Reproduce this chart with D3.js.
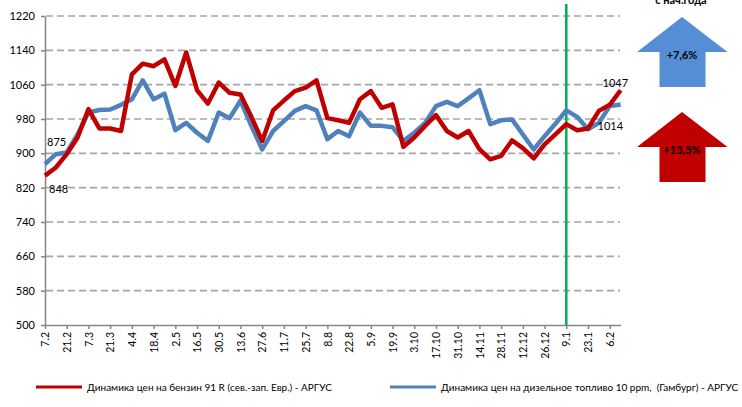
<!DOCTYPE html>
<html>
<head>
<meta charset="utf-8">
<script src="https://cdn.jsdelivr.net/npm/d3@7"></script>
<style>
  body { margin: 0; background: #fff; }
  svg { font-family: Lato, "Open Sans", sans-serif; }
</style>
</head>
<body>
<svg id="chart" width="742" height="407"></svg>
<script>
// weekly dates, 7.2 .. 13.2
var weeks = ['7.2','14.2','21.2','28.2','7.3','14.3','21.3','28.3','4.4','11.4','18.4','25.4',
    '2.5','9.5','16.5','23.5','30.5','6.6','13.6','20.6','27.6','4.7','11.7','18.7','25.7',
    '1.8','8.8','15.8','22.8','29.8','5.9','12.9','19.9','26.9','3.10','10.10','17.10','24.10',
    '31.10','7.11','14.11','21.11','28.11','5.12','12.12','19.12','26.12','2.1','9.1','16.1',
    '23.1','30.1','6.2','13.2'];

var petrol = [848, 867, 898, 937, 1003, 958, 958, 952, 1084, 1109, 1103, 1119,
    1057, 1135, 1047, 1016, 1065, 1041, 1037, 985, 929, 1000, 1023, 1045, 1053,
    1070, 982, 977, 971, 1026, 1045, 1006, 1014, 915, 937, 964, 989, 952,
    937, 952, 910, 886, 894, 930, 912, 888, 921, 944, 968, 954,
    958, 999, 1013, 1047];

var diesel = [875, 898, 902, 944, 995, 1001, 1002, 1013, 1026, 1070, 1026, 1039,
    954, 971, 948, 929, 995, 982, 1023, 964, 909, 952, 975, 999, 1010,
    1000, 933, 952, 940, 995, 964, 964, 961, 929, 948, 971, 1010, 1020,
    1010, 1028, 1047, 968, 977, 979, 944, 909, 940, 969, 1000, 985,
    956, 971, 1010, 1014];

var yTicks = [500, 580, 660, 740, 820, 900, 980, 1060, 1140, 1220];
var yearStart = '9.1';

var legendNames = ['Динамика цен на бензин 91 R (сев.-зап. Евр.) - АРГУС',
    'Динамика цен на дизельное топливо 10 ppm,  (Гамбург) - АРГУС'];
var changes = ['+13,5%', '+7,6%'];

var red = '#c00000', blue = '#4f81bd';

var svg = d3.select('#chart');

var x = d3.scalePoint()
    .domain(weeks)
    .range([45, 620.6]);

var y = d3.scaleLinear()
    .domain([500, 1220])
    .range([325, 16]);

// gridlines
svg.append('g')
    .selectAll('line')
    .data(yTicks.slice(1))
    .enter()
    .append('line')
    .attr('x1', 46)
    .attr('x2', 620)
    .attr('y1', function(d) { return y(d); })
    .attr('y2', function(d) { return y(d); })
    .style('stroke', '#a6a6a6')
    .style('stroke-width', '1.6px')
    .style('stroke-dasharray', '7,4');

// y axis
var yAxis = svg.append('g')
    .attr('transform', 'translate(45,0)')
    .call(d3.axisLeft(y).tickValues(yTicks).tickFormat(d3.format('d'))
        .tickSize(4).tickPadding(6).tickSizeOuter(0));
yAxis.select('.domain').style('stroke', '#868686').style('stroke-width', '1.5px');
yAxis.selectAll('.tick line').style('stroke', '#868686').style('stroke-width', '1.5px');
yAxis.selectAll('text')
    .style('font-size', '11px')
    .style('fill', '#000')
    .style('font-family', 'Lato, sans-serif');

// x axis
var xAxis = svg.append('g')
    .attr('transform', 'translate(0,325)')
    .call(d3.axisBottom(x)
        .tickValues(weeks.filter(function(d, i) { return i % 2 === 0; }))
        .tickSize(4)
        .tickSizeOuter(0));
xAxis.select('.domain').style('stroke', '#868686').style('stroke-width', '1.5px');
xAxis.selectAll('.tick line').style('stroke', '#868686').style('stroke-width', '1.5px');
xAxis.selectAll('text')
    .attr('transform', 'rotate(-90)')
    .attr('x', -7)
    .attr('y', 0)
    .attr('dy', '0.35em')
    .style('text-anchor', 'end')
    .style('font-size', '10.5px')
    .style('fill', '#000')
    .style('font-family', 'Lato, sans-serif');

// green line at start of the year
svg.append('line')
    .attr('x1', x(yearStart))
    .attr('x2', x(yearStart))
    .attr('y1', 4)
    .attr('y2', 325)
    .style('stroke', '#00b050')
    .style('stroke-width', '2.5px');

var line = d3.line()
    .x(function(d, i) { return x(weeks[i]); })
    .y(function(d) { return y(d); });

svg.append('path')
    .datum(diesel)
    .attr('d', line)
    .style('fill', 'none')
    .style('stroke', blue)
    .style('stroke-width', '4.5px')
    .style('stroke-linejoin', 'round');

svg.append('path')
    .datum(petrol)
    .attr('d', line)
    .style('fill', 'none')
    .style('stroke', red)
    .style('stroke-width', '4.5px')
    .style('stroke-linejoin', 'round');

// data labels
var last = weeks.length - 1;
var labels = [
    { t: diesel[0], x: x(weeks[0]) + 2, y: y(diesel[0]) - 18 },
    { t: petrol[0], x: x(weeks[0]) + 4, y: y(petrol[0]) + 17 },
    { t: petrol[last], x: x(weeks[last]) - 18, y: y(petrol[last]) - 3 },
    { t: diesel[last], x: x(weeks[last]) - 23, y: y(diesel[last]) + 26 }
];
svg.append('g')
    .selectAll('text')
    .data(labels)
    .enter()
    .append('text')
    .attr('x', function(d) { return d.x; })
    .attr('y', function(d) { return d.y; })
    .text(function(d) { return d.t; })
    .style('font-size', '11px')
    .style('fill', '#000');

// arrows with change since start of the year
svg.append('text')
    .attr('x', 681)
    .attr('y', 4)
    .attr('text-anchor', 'middle')
    .text('с нач.года')
    .style('font-size', '11px')
    .style('font-weight', 'bold');

function arrow(top, color, label) {
    var pts = [[682, top], [727.5, top + 35], [705.5, top + 35], [705.5, top + 70],
        [659.5, top + 70], [659.5, top + 35], [637, top + 35]];
    svg.append('polygon')
        .attr('points', pts.map(function(p) { return p.join(','); }).join(' '))
        .style('fill', color);
    svg.append('text')
        .attr('x', 682)
        .attr('y', top + 42)
        .attr('text-anchor', 'middle')
        .text(label)
        .style('font-size', '11px')
        .style('font-weight', 'bold')
        .style('fill', '#000');
}
arrow(17, '#558ed5', changes[1]);
arrow(112, red, changes[0]);

// legend
var legend = svg.append('g');
[[36, red], [390, blue]].forEach(function(l, i) {
    legend.append('line')
        .attr('x1', l[0])
        .attr('x2', l[0] + 46)
        .attr('y1', 387)
        .attr('y2', 387)
        .style('stroke', l[1])
        .style('stroke-width', '3px');
    legend.append('text')
        .attr('x', l[0] + 51)
        .attr('y', 391)
        .text(legendNames[i])
        .style('white-space', 'pre')
        .style('font-size', '10px')
        .style('fill', '#000');
});
</script>
</body>
</html>
